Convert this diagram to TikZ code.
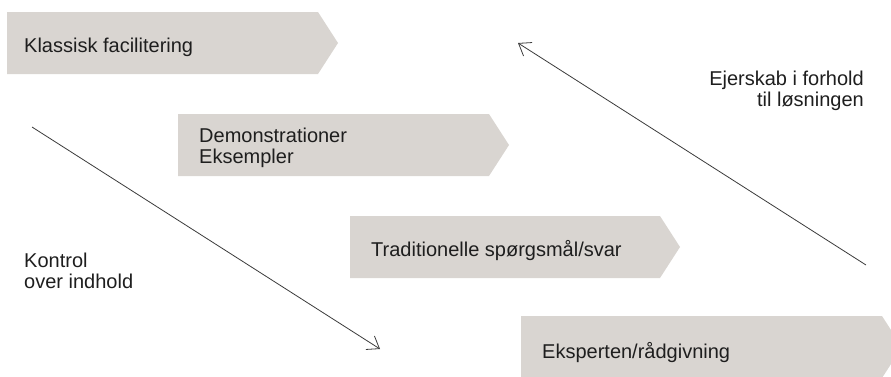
\documentclass[tikz,border=0pt]{standalone}
\usepackage{fontspec}
\setmainfont{Liberation Sans}
\usetikzlibrary{arrows.meta}
\definecolor{boxgray}{HTML}{D9D5D1}
\definecolor{ink}{HTML}{1E1E1E}
\definecolor{linegray}{HTML}{3A3A3A}
\tikzset{
  chev/.style={fill=boxgray, draw=none},
  lbl/.style={anchor=base west, inner sep=0pt, text=ink, font=\fontsize{20}{21}\selectfont, align=left},
  rlbl/.style={anchor=base east, inner sep=0pt, text=ink, font=\fontsize{20}{21}\selectfont, align=right},
  flow/.style={draw=linegray, line width=0.8pt, -{Straight Barb[length=11pt,width=16pt,line width=0.8pt]}}
}
\begin{document}
\begin{tikzpicture}[x=1pt,y=-1pt]
\useasboundingbox (0,0) rectangle (891,376);
% chevrons
\path[chev] (7,12) -- (318,12) -- (338,43) -- (318,74) -- (7,74) -- cycle;
\path[chev] (178,114) -- (489,114) -- (509,145) -- (489,176) -- (178,176) -- cycle;
\path[chev] (350,216) -- (660,216) -- (680,247) -- (660,278) -- (350,278) -- cycle;
\path[chev] (521,316) -- (882,316) -- (902,347) -- (882,378) -- (521,378) -- cycle;
% labels
\node[lbl] (k) at (24,52) {Klassisk facilitering};
\node[lbl] (d) at (199,163) {Demonstrationer\\Eksempler};
\node[lbl] (t) at (371,256) {Traditionelle spørgsmål/svar};
\node[lbl] (e) at (542,358) {Eksperten/rådgivning};
\node[lbl] (ko) at (24,288) {Kontrol\\over indhold};
\node[rlbl] (ej) at (864,106) {Ejerskab i forhold\\til løsningen};
% arrows
\coordinate (a1s) at (32,127);
\coordinate (a1e) at (380,349);
\coordinate (a2s) at (866,265);
\coordinate (a2e) at (518,43);
\draw[flow] (a1s) -- (a1e);
\draw[flow] (a2s) -- (a2e);
\end{tikzpicture}
\end{document}
